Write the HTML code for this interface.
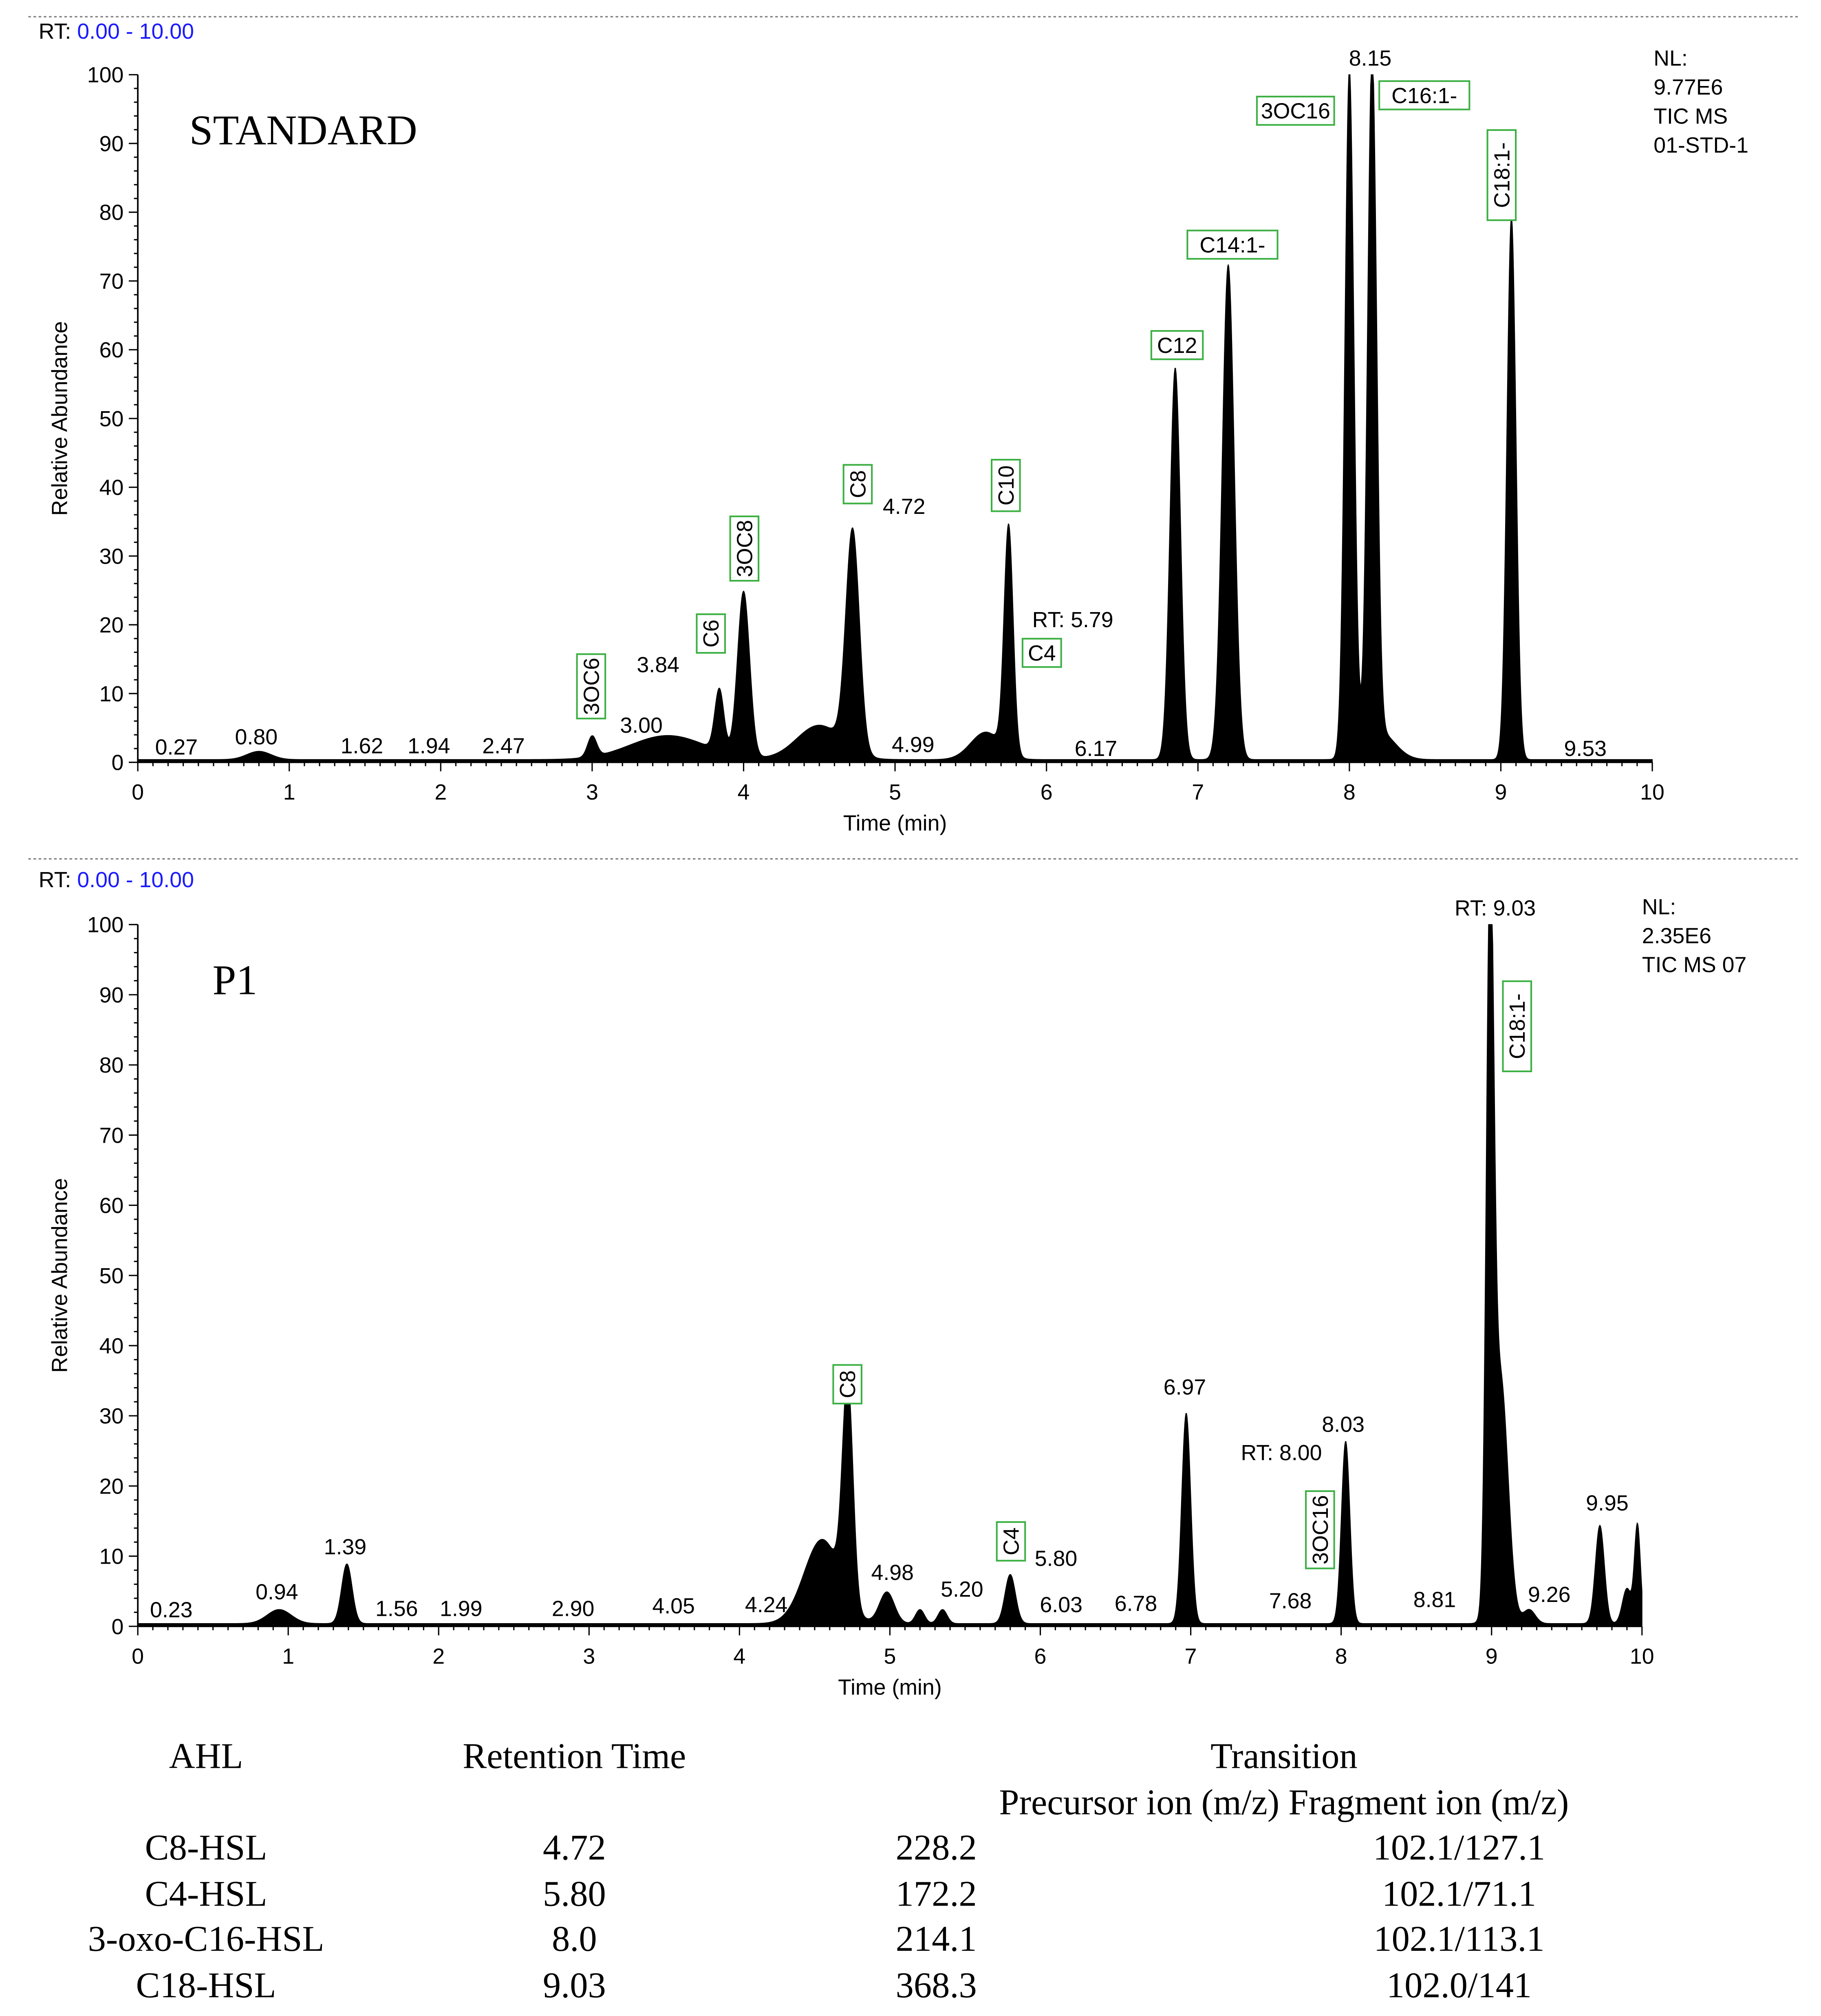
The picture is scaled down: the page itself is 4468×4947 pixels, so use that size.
<!DOCTYPE html>
<html><head><meta charset="utf-8"><style>
html,body{margin:0;padding:0;background:#fff}
svg{display:block}
.s{font-family:"Liberation Sans",sans-serif;font-size:17px;fill:#000}
.r{font-family:"Liberation Serif",serif;fill:#000}
</style></head><body>
<svg id="fig" width="4468" height="4947" viewBox="0 0 1414 1565.6" xmlns="http://www.w3.org/2000/svg">
<line x1="22" y1="13" x2="1396" y2="13" stroke="#777" stroke-dasharray="2,2"/>
<line x1="22" y1="667" x2="1396" y2="667" stroke="#777" stroke-dasharray="2,2"/>
<g id="top"></g>
<g id="bot"></g>
<g class="r" font-size="28" text-anchor="middle">
<text x="160" y="1373">AHL</text><text x="446" y="1373">Retention Time</text><text x="997" y="1373">Transition</text>
<text x="997" y="1409">Precursor ion (m/z) Fragment ion (m/z)</text>
<text x="160" y="1444">C8-HSL</text><text x="446" y="1444">4.72</text><text x="727" y="1444">228.2</text><text x="1133" y="1444">102.1/127.1</text>
<text x="160" y="1480">C4-HSL</text><text x="446" y="1480">5.80</text><text x="727" y="1480">172.2</text><text x="1133" y="1480">102.1/71.1</text>
<text x="160" y="1515">3-oxo-C16-HSL</text><text x="446" y="1515">8.0</text><text x="727" y="1515">214.1</text><text x="1133" y="1515">102.1/113.1</text>
<text x="160" y="1551">C18-HSL</text><text x="446" y="1551">9.03</text><text x="727" y="1551">368.3</text><text x="1133" y="1551">102.0/141</text>
</g>
</svg>
<script>
// STANDARD peaks: retention time (min), relative height (%), width (sigma, min)
const topTimes   = [0.80,3.00,3.50,3.84,4.00,4.50,4.72,5.60,5.75,6.85,7.20,8.00,8.15,8.20,9.07];
const topHeights = [1.2, 3.0, 3.5, 9,   24,  5,   32,  4,   33,  57,  72,  100, 100, 4,   79];
const topWidths  = [0.08,0.03,0.25,0.03,0.04,0.15,0.045,0.1,0.03,0.035,0.04,0.03,0.03,0.1,0.03];
// P1 peaks
const botTimes   = [0.94,1.39,4.55,4.72,4.98,5.20,5.35,5.80,6.97,8.03,8.99,9.06,9.25,9.72,9.90,9.97];
const botHeights = [2,   8.5, 12,  31,  4.5, 2,   2,   7,   30,  26,  99,  35,  2,   14,  5,   14];
const botWidths  = [0.08,0.035,0.12,0.035,0.05,0.03,0.03,0.035,0.03,0.028,0.025,0.05,0.04,0.03,0.03,0.02];
const yTicks = [0,10,20,30,40,50,60,70,80,90,100];
const xTicks = [0,1,2,3,4,5,6,7,8,9,10];

const NS="http://www.w3.org/2000/svg";
function mk(parent,tag,attrs,text){const e=document.createElementNS(NS,tag);for(const k in attrs)e.setAttribute(k,attrs[k]);if(text!==undefined)e.textContent=text;parent.appendChild(e);return e;}

function drawChart(g,cfg){
  const X=t=>cfg.x0+(cfg.x1-cfg.x0)*t/10;
  const Y=v=>cfg.y0-(cfg.y0-cfg.y1)*v/100;
  let d="M"+X(0)+","+Y(0);
  for(let t=0;t<=10.0001;t+=0.004){
    let v=0.4;
    for(let i=0;i<cfg.times.length;i++){const z=(t-cfg.times[i])/cfg.widths[i];v+=cfg.heights[i]*Math.exp(-0.5*z*z);}
    v=Math.min(v,100);
    d+=" L"+X(t).toFixed(2)+","+Y(v).toFixed(2);
  }
  d+=" L"+X(10)+","+Y(0)+" Z";
  const p=mk(g,"path",{d:d,fill:"#000",stroke:"#000","stroke-width":"0.6"});
  
  
  mk(g,"line",{x1:X(0),y1:Y(0),x2:X(10),y2:Y(0),stroke:"#000","stroke-width":1.2});
  mk(g,"line",{x1:X(0),y1:Y(0),x2:X(0),y2:Y(100),stroke:"#000","stroke-width":1.2});
  for(let i=0;i<=100;i++){const t=i/10;mk(g,"line",{x1:X(t),y1:Y(0),x2:X(t),y2:Y(0)+(i%10==0?7:3),stroke:"#000","stroke-width":1});}
  for(let v=0;v<=100;v+=2){mk(g,"line",{x1:X(0),y1:Y(v),x2:X(0)-(v%10==0?7:3),y2:Y(v),stroke:"#000","stroke-width":1});}
  xTicks.forEach(t=>{const e=mk(g,"text",{x:X(t),y:Y(0)+29,"text-anchor":"middle",class:"s"},String(t));
    });
  yTicks.forEach(v=>{const e=mk(g,"text",{x:X(0)-11,y:Y(v)+6,"text-anchor":"end",class:"s"},String(v));
    });
  const yt=mk(g,"text",{x:0,y:0,transform:"translate(52,"+((Y(0)+Y(100))/2)+") rotate(-90)","text-anchor":"middle",class:"s"},"Relative Abundance");
  
  const xt=mk(g,"text",{x:(X(0)+X(10))/2,y:Y(0)+53,"text-anchor":"middle",class:"s"},"Time (min)");
  
  const rt=mk(g,"text",{x:30,y:cfg.rtY,class:"s"});
  mk(rt,"tspan",{},"RT: ");mk(rt,"tspan",{fill:"#1a1aff"},"0.00 - 10.00");
  
  const ti=mk(g,"text",{x:cfg.titleX,y:cfg.titleY,class:"r","font-size":"33"},cfg.title);
  
  cfg.nl.forEach((s,i)=>{const e=mk(g,"text",{x:cfg.nlX,y:cfg.nlY+i*22.5,class:"s"},s);
    });
  cfg.labels.forEach(l=>{const e=mk(g,"text",{x:l[1],y:l[2],"text-anchor":"middle",class:"s"},l[0]);
    });
  cfg.boxes.forEach(b=>{
    const [txt,cx,cy,rot]=b;
    const w=txt.length*10+10,h=22;
    const bg=mk(g,"g",{transform:"translate("+cx+","+cy+")"+(rot?" rotate(-90)":"")});
    
    
    mk(bg,"rect",{x:-w/2,y:-h/2,width:w,height:h,fill:"#fff",stroke:"#3cb043","stroke-width":1.3});
    mk(bg,"text",{x:0,y:6,"text-anchor":"middle",class:"s"},txt);
  });
}

drawChart(document.getElementById("top"),{
  x0:107,x1:1283,y0:592,y1:58,times:topTimes,heights:topHeights,widths:topWidths,
  rtY:30,title:"STANDARD",titleX:147,titleY:112,nl:["NL:","9.77E6","TIC  MS","01-STD-1"],nlX:1284,nlY:51,
  labels:[["0.27",137,586],["0.80",199,578],["1.62",281,585],["1.94",333,585],["2.47",391,585],["3.00",498,569],["3.84",511,522],["4.72",702,399],["4.99",709,584],["6.17",851,587],["9.53",1231,587],["8.15",1064,51],["RT: 5.79",833,487]],
  boxes:[["3OC6",459,533,1],["C6",552,492,1],["3OC8",578,426,1],["C8",666,376,1],["C10",781,377,1],["C4",809,507,0],["C12",914,268,0],["C14:1-",957,190,0],["3OC16",1006,86,0],["C16:1-",1106,74,0],["C18:1-",1166,136,1]]
});
drawChart(document.getElementById("bot"),{
  x0:107,x1:1275,y0:1263,y1:718,times:botTimes,heights:botHeights,widths:botWidths,
  rtY:689,title:"P1",titleX:165,titleY:772,nl:["NL:","2.35E6","TIC  MS 07"],nlX:1275,nlY:710,
  labels:[["0.23",133,1256],["0.94",215,1242],["1.39",268,1207],["1.56",308,1255],["1.99",358,1255],["2.90",445,1255],["4.05",523,1253],["4.24",595,1252],["4.98",693,1227],["5.20",747,1240],["5.80",820,1216],["6.03",824,1252],["6.78",882,1251],["6.97",920,1083],["7.68",1002,1249],["8.03",1043,1112],["RT: 8.00",995,1134],["8.81",1114,1248],["9.26",1203,1244],["9.95",1248,1173],["RT: 9.03",1161,711]],
  boxes:[["C8",658,1075,1],["C4",785,1197,1],["3OC16",1025,1188,1],["C18:1-",1178,797,1]]
});
</script>
</body></html>
